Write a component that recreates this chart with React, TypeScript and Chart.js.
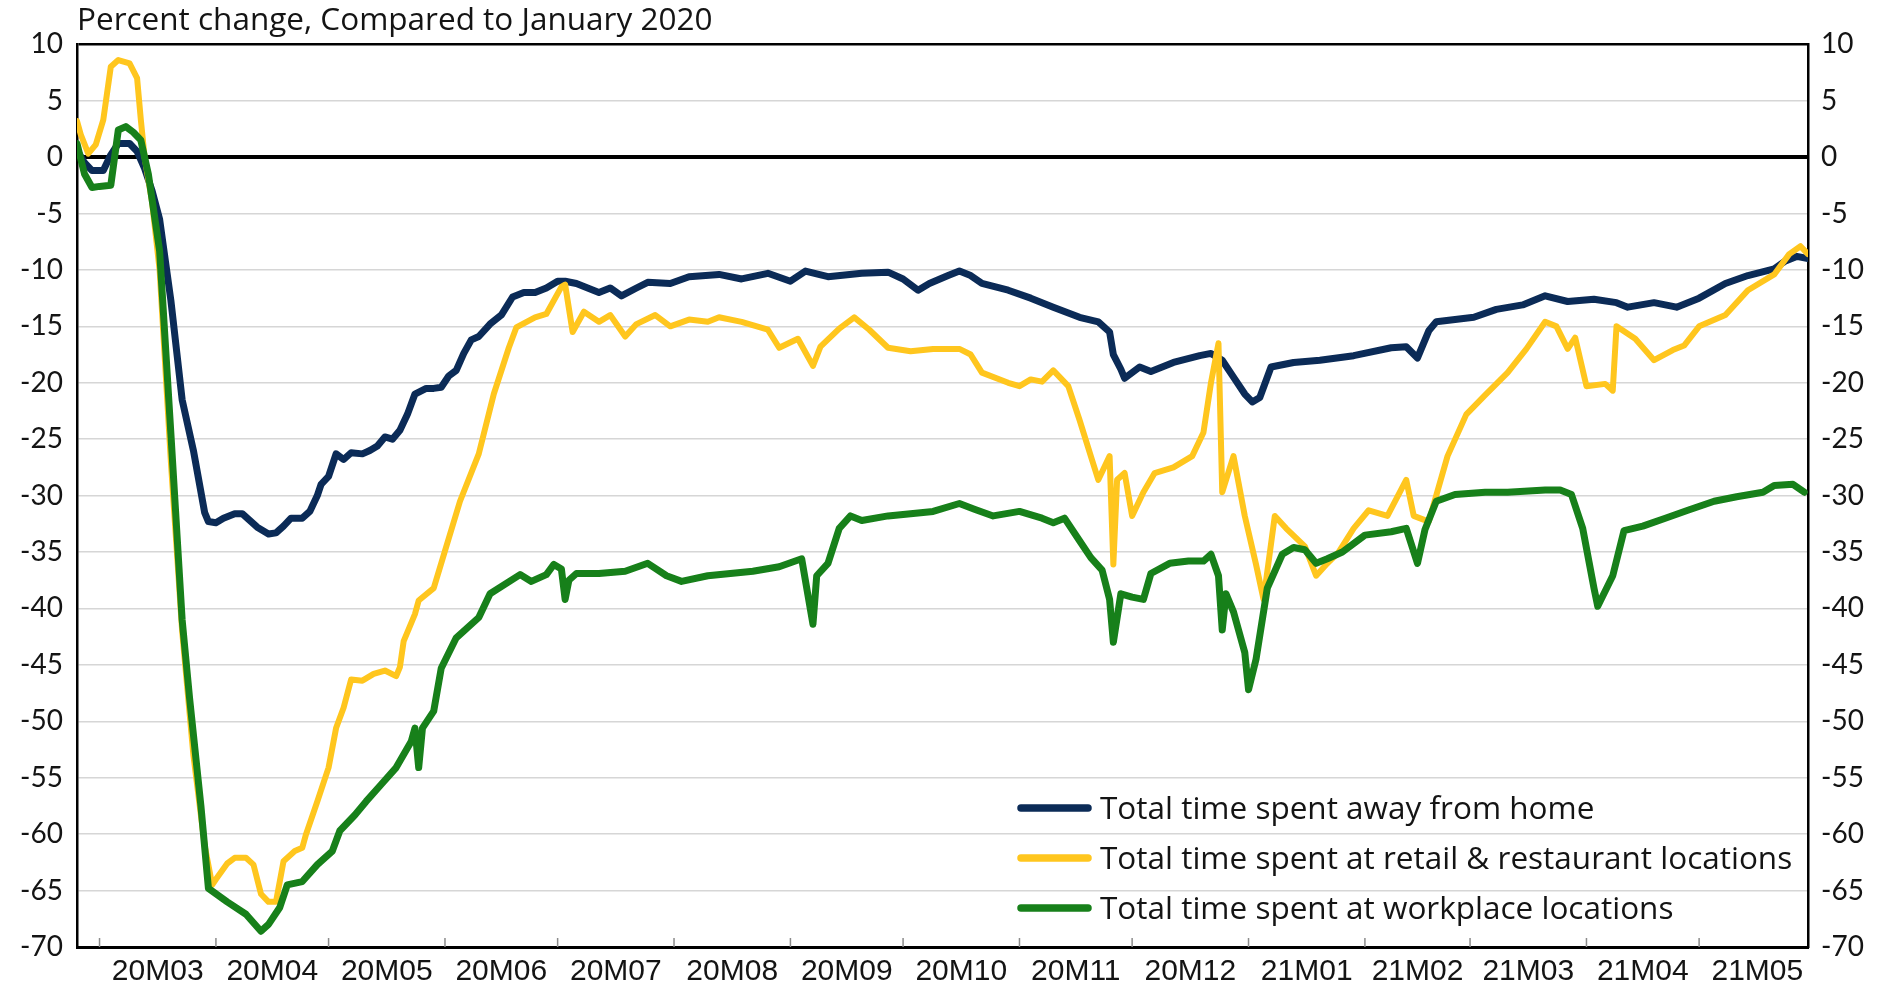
import React, { useEffect, useRef } from "react";
import { Chart, registerables } from "chart.js";

Chart.register(...registerables);

// ---------- data ----------
const startDate = "2020-02-24";
const endDate = "2021-05-30";

const titleText = "Percent change, Compared to January 2020";

const monthStarts = [
  "2020-03-01", "2020-04-01", "2020-05-01", "2020-06-01", "2020-07-01",
  "2020-08-01", "2020-09-01", "2020-10-01", "2020-11-01", "2020-12-01",
  "2021-01-01", "2021-02-01", "2021-03-01", "2021-04-01", "2021-05-01",
  "2021-06-01",
];
const monthLabels = [
  "20M03", "20M04", "20M05", "20M06", "20M07", "20M08", "20M09", "20M10",
  "20M11", "20M12", "21M01", "21M02", "21M03", "21M04", "21M05",
];

const seriesLabels = [
  "Total time spent away from home",
  "Total time spent at retail & restaurant locations",
  "Total time spent at workplace locations",
];

const awayDates = [
  "2020-02-24","2020-02-26","2020-02-28","2020-03-02","2020-03-04","2020-03-06","2020-03-09","2020-03-11","2020-03-13","2020-03-15",
  "2020-03-17","2020-03-20","2020-03-23","2020-03-26","2020-03-29","2020-03-30","2020-04-01","2020-04-03","2020-04-06","2020-04-08",
  "2020-04-10","2020-04-12","2020-04-15","2020-04-17","2020-04-19","2020-04-21","2020-04-24","2020-04-26","2020-04-28","2020-04-29",
  "2020-05-01","2020-05-03","2020-05-05","2020-05-07","2020-05-10","2020-05-12","2020-05-14","2020-05-16","2020-05-18","2020-05-20",
  "2020-05-22","2020-05-24","2020-05-27","2020-05-29","2020-05-31","2020-06-02","2020-06-04","2020-06-06","2020-06-08","2020-06-10",
  "2020-06-13","2020-06-16","2020-06-19","2020-06-22","2020-06-25","2020-06-28","2020-07-01","2020-07-03","2020-07-06","2020-07-12",
  "2020-07-15","2020-07-18","2020-07-22","2020-07-25","2020-07-31","2020-08-05","2020-08-13","2020-08-19","2020-08-26","2020-09-01",
  "2020-09-05","2020-09-11","2020-09-20","2020-09-27","2020-10-01","2020-10-05","2020-10-08","2020-10-13","2020-10-16","2020-10-19",
  "2020-10-22","2020-10-29","2020-11-04","2020-11-10","2020-11-17","2020-11-22","2020-11-25","2020-11-26","2020-11-28","2020-11-29",
  "2020-12-03","2020-12-06","2020-12-12","2020-12-19","2020-12-22","2020-12-25","2020-12-28","2020-12-31","2021-01-02","2021-01-04",
  "2021-01-07","2021-01-13","2021-01-20","2021-01-29","2021-02-08","2021-02-12","2021-02-15","2021-02-18","2021-02-20","2021-03-02",
  "2021-03-08","2021-03-15","2021-03-21","2021-03-27","2021-04-03","2021-04-09","2021-04-12","2021-04-19","2021-04-25","2021-05-01",
  "2021-05-08","2021-05-14","2021-05-21","2021-05-24","2021-05-27","2021-05-30",
];
const awayValues = [
  0.6,-0.5,-1.2,-1.2,0.2,1.2,1.2,0.5,-1.0,-3.0,
  -5.5,-12.7,-21.5,-26.0,-31.5,-32.3,-32.4,-32.0,-31.6,-31.6,
  -32.2,-32.8,-33.4,-33.3,-32.7,-32.0,-32.0,-31.4,-30.0,-29.0,
  -28.3,-26.3,-26.8,-26.2,-26.3,-26.0,-25.6,-24.8,-25.0,-24.2,
  -22.8,-21.0,-20.5,-20.5,-20.4,-19.4,-18.9,-17.4,-16.2,-15.9,
  -14.8,-14.0,-12.4,-12.0,-12.0,-11.6,-11.0,-11.0,-11.2,-12.0,
  -11.6,-12.3,-11.6,-11.1,-11.2,-10.6,-10.4,-10.8,-10.3,-11.0,
  -10.1,-10.6,-10.3,-10.2,-10.8,-11.8,-11.2,-10.5,-10.1,-10.5,
  -11.2,-11.8,-12.5,-13.3,-14.2,-14.6,-15.5,-17.5,-18.8,-19.6,
  -18.6,-19.0,-18.2,-17.6,-17.4,-18.0,-19.5,-21.0,-21.7,-21.3,
  -18.6,-18.2,-18.0,-17.6,-16.9,-16.8,-17.8,-15.4,-14.6,-14.2,
  -13.5,-13.1,-12.3,-12.8,-12.6,-12.9,-13.3,-12.9,-13.3,-12.5,
  -11.2,-10.5,-9.9,-9.2,-8.8,-9.0,
];

const retailDates = [
  "2020-02-24","2020-02-25","2020-02-27","2020-02-29","2020-03-02","2020-03-04","2020-03-06","2020-03-09","2020-03-11","2020-03-12",
  "2020-03-13","2020-03-15","2020-03-17","2020-03-20","2020-03-23","2020-03-26","2020-03-29","2020-03-31","2020-04-01","2020-04-04",
  "2020-04-06","2020-04-09","2020-04-11","2020-04-13","2020-04-15","2020-04-17","2020-04-19","2020-04-22","2020-04-24","2020-04-25",
  "2020-04-28","2020-05-01","2020-05-03","2020-05-05","2020-05-07","2020-05-10","2020-05-13","2020-05-16","2020-05-19","2020-05-20",
  "2020-05-21","2020-05-24","2020-05-25","2020-05-29","2020-06-01","2020-06-05","2020-06-10","2020-06-14","2020-06-18","2020-06-20",
  "2020-06-25","2020-06-28","2020-07-02","2020-07-03","2020-07-05","2020-07-08","2020-07-12","2020-07-15","2020-07-19","2020-07-22",
  "2020-07-27","2020-07-31","2020-08-05","2020-08-10","2020-08-13","2020-08-19","2020-08-26","2020-08-29","2020-09-03","2020-09-07",
  "2020-09-09","2020-09-14","2020-09-18","2020-09-22","2020-09-27","2020-10-03","2020-10-09","2020-10-16","2020-10-19","2020-10-22",
  "2020-10-29","2020-11-01","2020-11-04","2020-11-07","2020-11-10","2020-11-14","2020-11-17","2020-11-20","2020-11-22","2020-11-25",
  "2020-11-26","2020-11-27","2020-11-29","2020-12-01","2020-12-04","2020-12-07","2020-12-12","2020-12-17","2020-12-20","2020-12-22",
  "2020-12-24","2020-12-25","2020-12-28","2020-12-31","2021-01-03","2021-01-05","2021-01-08","2021-01-11","2021-01-16","2021-01-19",
  "2021-01-22","2021-01-25","2021-01-29","2021-02-02","2021-02-07","2021-02-12","2021-02-14","2021-02-18","2021-02-23","2021-02-28",
  "2021-03-05","2021-03-11","2021-03-16","2021-03-21","2021-03-24","2021-03-27","2021-03-29","2021-04-01","2021-04-06","2021-04-08",
  "2021-04-09","2021-04-14","2021-04-19","2021-04-24","2021-04-27","2021-05-01","2021-05-08","2021-05-14","2021-05-21","2021-05-25",
  "2021-05-28","2021-05-30",
];
const retailValues = [
  3.2,2.0,0.3,1.1,3.3,8.0,8.6,8.3,7.0,3.3,
  0.0,-4.0,-10.0,-27.0,-42.0,-53.0,-61.0,-64.5,-64.0,-62.6,
  -62.1,-62.1,-62.7,-65.3,-66.0,-66.0,-62.4,-61.5,-61.2,-60.0,
  -57.1,-54.1,-50.6,-48.8,-46.3,-46.4,-45.8,-45.5,-46.0,-45.2,
  -42.9,-40.5,-39.3,-38.2,-34.9,-30.5,-26.3,-21.0,-16.9,-15.1,
  -14.2,-13.9,-11.5,-11.3,-15.5,-13.7,-14.6,-14.0,-15.9,-14.8,
  -14.0,-15.0,-14.4,-14.6,-14.2,-14.6,-15.3,-16.9,-16.1,-18.5,
  -16.8,-15.2,-14.2,-15.3,-16.9,-17.2,-17.0,-17.0,-17.5,-19.1,
  -20.0,-20.3,-19.7,-19.9,-18.9,-20.3,-23.3,-26.5,-28.6,-26.5,
  -36.1,-28.6,-28.0,-31.8,-29.7,-28.0,-27.5,-26.5,-24.4,-20.0,
  -16.5,-29.7,-26.5,-31.8,-36.1,-39.2,-31.8,-32.9,-34.5,-37.1,
  -36.0,-35.0,-32.9,-31.3,-31.8,-28.6,-31.8,-32.3,-26.5,-22.8,
  -21.1,-19.1,-17.0,-14.6,-15.0,-17.0,-16.0,-20.3,-20.1,-20.7,
  -15.0,-16.1,-18.0,-17.1,-16.7,-15.0,-14.0,-11.8,-10.4,-8.6,
  -7.9,-8.6,
];

const workDates = [
  "2020-02-24","2020-02-26","2020-02-28","2020-03-01","2020-03-04","2020-03-06","2020-03-08","2020-03-10","2020-03-12","2020-03-14",
  "2020-03-17","2020-03-20","2020-03-23","2020-03-25","2020-03-28","2020-03-30","2020-04-04","2020-04-09","2020-04-13","2020-04-15",
  "2020-04-18","2020-04-20","2020-04-24","2020-04-28","2020-05-02","2020-05-04","2020-05-08","2020-05-11","2020-05-15","2020-05-19",
  "2020-05-23","2020-05-24","2020-05-25","2020-05-26","2020-05-29","2020-05-31","2020-06-04","2020-06-10","2020-06-13","2020-06-21",
  "2020-06-24","2020-06-28","2020-06-30","2020-07-02","2020-07-03","2020-07-04","2020-07-06","2020-07-12","2020-07-19","2020-07-25",
  "2020-07-30","2020-08-03","2020-08-10","2020-08-16","2020-08-22","2020-08-29","2020-09-04","2020-09-07","2020-09-08","2020-09-11",
  "2020-09-14","2020-09-17","2020-09-20","2020-09-27","2020-10-03","2020-10-09","2020-10-16","2020-10-20","2020-10-25","2020-11-01",
  "2020-11-07","2020-11-10","2020-11-13","2020-11-17","2020-11-20","2020-11-23","2020-11-25","2020-11-26","2020-11-28","2020-12-01",
  "2020-12-04","2020-12-06","2020-12-11","2020-12-16","2020-12-20","2020-12-22","2020-12-24","2020-12-25","2020-12-26","2020-12-28",
  "2020-12-31","2021-01-01","2021-01-03","2021-01-06","2021-01-10","2021-01-13","2021-01-16","2021-01-19","2021-01-22","2021-01-26",
  "2021-02-01","2021-02-08","2021-02-12","2021-02-15","2021-02-17","2021-02-20","2021-02-25","2021-03-05","2021-03-11","2021-03-21",
  "2021-03-25","2021-03-28","2021-03-31","2021-04-03","2021-04-04","2021-04-08","2021-04-11","2021-04-16","2021-04-22","2021-04-28",
  "2021-05-05","2021-05-11","2021-05-18","2021-05-21","2021-05-26","2021-05-29",
];
const workValues = [
  1.2,-1.5,-2.7,-2.6,-2.5,2.4,2.7,2.2,1.5,-1.5,
  -8.3,-24.5,-41.0,-48.0,-57.5,-64.8,-66.0,-67.1,-68.6,-68.0,
  -66.5,-64.5,-64.2,-62.7,-61.5,-59.7,-58.3,-57.1,-55.6,-54.1,
  -51.8,-50.6,-54.1,-50.6,-49.1,-45.3,-42.6,-40.8,-38.7,-37.0,
  -37.6,-37.0,-36.1,-36.5,-39.2,-37.5,-36.9,-36.9,-36.7,-36.0,
  -37.1,-37.6,-37.1,-36.9,-36.7,-36.3,-35.6,-41.4,-37.1,-36.0,
  -32.9,-31.8,-32.2,-31.8,-31.6,-31.4,-30.7,-31.2,-31.8,-31.4,
  -32.0,-32.4,-32.0,-34.0,-35.5,-36.6,-39.2,-43.0,-38.7,-39.0,
  -39.2,-36.9,-36.0,-35.8,-35.8,-35.2,-37.1,-41.9,-38.7,-40.3,
  -43.9,-47.2,-44.5,-38.2,-35.2,-34.6,-34.8,-36.0,-35.6,-35.0,
  -33.5,-33.2,-32.9,-36.0,-33.0,-30.5,-29.9,-29.7,-29.7,-29.5,
  -29.5,-29.9,-32.9,-38.2,-39.8,-37.1,-33.1,-32.7,-32.0,-31.3,
  -30.5,-30.1,-29.7,-29.1,-29.0,-29.7,
];

const seriesColors = ["#0B2B57", "#FFC61E", "#17801A"];
const seriesWidths = [7, 6, 7];

const yMin = -70;
const yMax = 10;
const yStep = 5;

// ---------- helpers ----------
function dayIndex(s: string): number {
  const [y, m, d] = s.split("-").map(Number);
  const [y0, m0, d0] = startDate.split("-").map(Number);
  return Math.round((Date.UTC(y, m - 1, d) - Date.UTC(y0, m0 - 1, d0)) / 86400000);
}
function toPoints(dates: string[], values: number[]) {
  return dates.map((d, i) => ({ x: dayIndex(d), y: values[i] }));
}

const CANVAS_W = 1878;
const CANVAS_H = 990;
const TEXT = "#141414";
const TEXT_FONT = "'Open Sans'";

const insideTicksPlugin = {
  id: "insideTicks",
  afterDraw(chart: any) {
    const { ctx, chartArea, scales } = chart;
    const xs = scales.x;
    ctx.save();
    ctx.strokeStyle = "#8c8c8c";
    ctx.lineWidth = 1.5;
    monthStarts.slice(0, monthLabels.length).forEach((m) => {
      const px = xs.getPixelForValue(dayIndex(m));
      ctx.beginPath();
      ctx.moveTo(px, chartArea.bottom - 9);
      ctx.lineTo(px, chartArea.bottom);
      ctx.stroke();
    });
    ctx.restore();
  },
};

const legendPlugin = {
  id: "insideLegend",
  afterDraw(chart: any) {
    const { ctx, chartArea } = chart;
    ctx.save();
    chart.data.datasets.forEach((ds: any, i: number) => {
      const y = chartArea.bottom - 139 + i * 50;
      const x0 = chartArea.left + 940;
      ctx.strokeStyle = ds.borderColor;
      ctx.lineWidth = 7.5;
      ctx.lineCap = "round";
      ctx.beginPath();
      ctx.moveTo(x0 + 4, y);
      ctx.lineTo(x0 + 71, y);
      ctx.stroke();
      ctx.fillStyle = TEXT;
      ctx.font = `31.5px ${TEXT_FONT}`;
      ctx.textBaseline = "alphabetic";
      ctx.textAlign = "left";
      ctx.fillText(ds.label, x0 + 83, y + 11);
    });
    ctx.restore();
  },
};

export default function App() {
  const canvasRef = useRef<HTMLCanvasElement | null>(null);

  useEffect(() => {
    if (!canvasRef.current) return;
    const labelCenters = monthLabels.map(
      (_, i) => (dayIndex(monthStarts[i]) + dayIndex(monthStarts[i + 1])) / 2
    );
    const datasets = [
      [awayDates, awayValues],
      [retailDates, retailValues],
      [workDates, workValues],
    ].map(([d, v], i) => ({
      label: seriesLabels[i],
      data: toPoints(d as string[], v as number[]),
      borderColor: seriesColors[i],
      backgroundColor: seriesColors[i],
      borderWidth: seriesWidths[i],
      pointRadius: 0,
      tension: 0,
      borderJoinStyle: "round" as const,
      borderCapStyle: "round" as const,
      order: 3 - i,
    }));

    const yTickFont = { family: "Lato", size: 28 };
    const gridColor = (c: any) =>
      c.tick && (c.tick.value === 0 || c.tick.value === yMax || c.tick.value === yMin) ? "#000" : "#d6d6d6";
    const gridWidth = (c: any) =>
      c.tick && c.tick.value === 0 ? 4 : c.tick && (c.tick.value === yMax || c.tick.value === yMin) ? 2.5 : 1.5;

    const chart = new Chart(canvasRef.current, {
      type: "line",
      data: { datasets },
      plugins: [insideTicksPlugin, legendPlugin],
      options: {
        animation: false,
        responsive: false,
        maintainAspectRatio: false,
        layout: { padding: 0 },
        plugins: {
          legend: { display: false },
          tooltip: { enabled: false },
          title: {
            display: true,
            text: titleText,
            align: "start",
            fullSize: false,
            color: TEXT,
            font: { family: "Open Sans", size: 31.5, weight: "normal", lineHeight: 1.15 },
            padding: { top: 3, bottom: 5 },
          },
        },
        scales: {
          x: {
            type: "linear",
            min: 0,
            max: dayIndex(endDate),
            afterBuildTicks: (scale: any) => {
              scale.ticks = labelCenters.map((v) => ({ value: v }));
            },
            afterFit: (scale: any) => {
              scale.height = CANVAS_H - 947;
            },
            ticks: {
              autoSkip: false,
              maxRotation: 0,
              minRotation: 0,
              padding: 7,
              color: TEXT,
              font: { family: "Liberation Sans", size: 30 },
              callback: (_v: any, i: number) => monthLabels[i],
            },
            grid: { display: false, drawTicks: false },
            border: { display: true, color: "#000", width: 3 },
          },
          y: {
            position: "left",
            min: yMin,
            max: yMax,
            afterFit: (scale: any) => {
              scale.width = 77;
            },
            ticks: { stepSize: yStep, color: TEXT, font: yTickFont, padding: 14 },
            grid: { color: gridColor, lineWidth: gridWidth, drawTicks: false },
            border: { display: true, color: "#000", width: 2.5 },
          },
          y2: {
            position: "right",
            min: yMin,
            max: yMax,
            afterFit: (scale: any) => {
              scale.width = CANVAS_W - 1808;
            },
            ticks: { stepSize: yStep, color: TEXT, font: yTickFont, padding: 13 },
            grid: { display: false, drawTicks: false },
            border: { display: true, color: "#000", width: 2.5 },
          },
        },
      },
    } as any);
    return () => chart.destroy();
  }, []);

  return (
    <div style={{ position: "fixed", left: 0, top: 0, width: CANVAS_W, height: CANVAS_H, background: "#fff" }}>
      <canvas ref={canvasRef} width={CANVAS_W} height={CANVAS_H} />
    </div>
  );
}
